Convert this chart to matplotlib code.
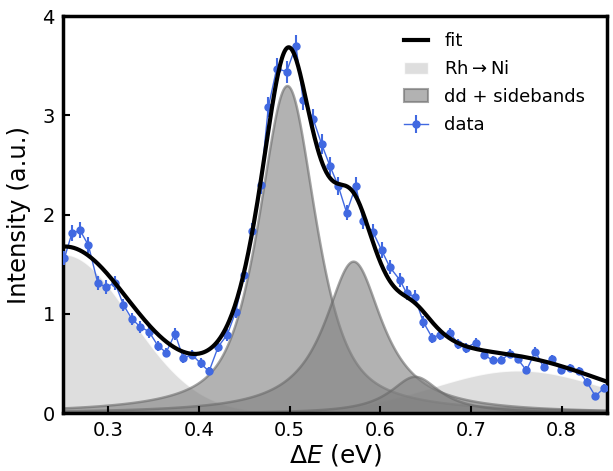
import numpy as np
import matplotlib
matplotlib.use("Agg")
from matplotlib import pyplot as plt
from matplotlib.patches import Patch

# measured spectrum
energy = [0.2514, 0.2596, 0.2687, 0.2779, 0.2882, 0.2970, 0.3073, 0.3165, 0.3257, 0.3349,
          0.3448, 0.3544, 0.3636, 0.3735, 0.3827, 0.3919, 0.4018, 0.4110, 0.4212, 0.4311,
          0.4404, 0.4496, 0.4580, 0.4680, 0.4764, 0.4856, 0.4966, 0.5069, 0.5149, 0.5260,
          0.5352, 0.5444, 0.5535, 0.5628, 0.5730, 0.5811, 0.5921, 0.6014, 0.6105, 0.6216,
          0.6289, 0.6380, 0.6473, 0.6572, 0.6664, 0.6767, 0.6858, 0.6951, 0.7053, 0.7145,
          0.7238, 0.7329, 0.7428, 0.7520, 0.7612, 0.7711, 0.7803, 0.7899, 0.7998, 0.8090,
          0.8189, 0.8281, 0.8373, 0.8465]
intensity = [1.56, 1.81, 1.84, 1.69, 1.31, 1.27, 1.31, 1.09, 0.95, 0.87,
             0.82, 0.68, 0.61, 0.80, 0.55, 0.59, 0.50, 0.42, 0.67, 0.79,
             1.02, 1.39, 1.83, 2.30, 3.08, 3.47, 3.44, 3.70, 3.15, 2.96,
             2.71, 2.49, 2.29, 2.02, 2.29, 1.93, 1.82, 1.64, 1.47, 1.34,
             1.21, 1.17, 0.92, 0.76, 0.79, 0.81, 0.70, 0.66, 0.71, 0.59,
             0.53, 0.53, 0.60, 0.54, 0.43, 0.62, 0.46, 0.54, 0.43, 0.45,
             0.42, 0.31, 0.17, 0.25]
errors = [0.07, 0.08, 0.08, 0.08, 0.07, 0.07, 0.07, 0.06, 0.06, 0.06,
          0.06, 0.05, 0.05, 0.06, 0.05, 0.05, 0.05, 0.04, 0.05, 0.06,
          0.06, 0.07, 0.08, 0.09, 0.10, 0.11, 0.11, 0.11, 0.10, 0.10,
          0.10, 0.09, 0.09, 0.08, 0.09, 0.08, 0.08, 0.08, 0.07, 0.07,
          0.07, 0.07, 0.06, 0.05, 0.05, 0.05, 0.05, 0.05, 0.05, 0.05,
          0.04, 0.04, 0.05, 0.04, 0.04, 0.05, 0.04, 0.04, 0.04, 0.04,
          0.04, 0.04, 0.03, 0.04]

# fit components
rh_center = [0.250, 0.752]
rh_height = [1.60, 0.43]
rh_sigma = [0.074, 0.095]

dd_center = [0.497, 0.570, 0.638]
dd_height = [3.30, 1.53, 0.37]
dd_fwhm = [0.075, 0.078, 0.068]
dd_eta = [0.7, 1.0, 1.0]


def gauss(x, c, a, s):
    return a * np.exp(-0.5 * ((x - c) / s) ** 2)


def pvoigt(x, c, a, w, eta):
    g = np.exp(-4 * np.log(2) * ((x - c) / w) ** 2)
    l = 1 / (1 + 4 * ((x - c) / w) ** 2)
    return a * (eta * l + (1 - eta) * g)


x = np.linspace(0.25, 0.85, 600)
rh = [gauss(x, c, a, s) for c, a, s in zip(rh_center, rh_height, rh_sigma)]
dd = [pvoigt(x, c, a, w, e) for c, a, w, e in zip(dd_center, dd_height, dd_fwhm, dd_eta)]
fit = sum(rh) + sum(dd)

fig = plt.figure(figsize=(6.13, 4.71), dpi=100)
ax = fig.add_axes([0.103, 0.123, 0.887, 0.843])

for y in rh:
    ax.fill_between(x, 0, y, facecolor="lightgray", edgecolor="white", lw=1, alpha=0.75)
for y in dd:
    ax.fill_between(x, 0, y, facecolor="gray", edgecolor="dimgray", lw=1.8, alpha=0.6)

ax.plot(x, fit, color="k", lw=3, zorder=4)
ax.errorbar(energy, intensity, yerr=errors, fmt="-o", color="royalblue", ms=5,
            lw=1, elinewidth=1.5, capsize=0, zorder=3)

ax.set_xlim(0.25, 0.85)
ax.set_ylim(0, 4)
ax.set_xticks([0.3, 0.4, 0.5, 0.6, 0.7, 0.8])
ax.set_yticks([0, 1, 2, 3, 4])
ax.tick_params(direction="in", length=5, width=1.5, labelsize=14, pad=6)
for sp in ax.spines.values():
    sp.set_linewidth(2.5)
ax.set_xlabel(r"$\Delta E$ (eV)", fontsize=18, labelpad=1)
ax.set_ylabel("Intensity (a.u.)", fontsize=17.5, labelpad=8)

handles = [
    plt.Line2D([], [], color="k", lw=3),
    Patch(facecolor="lightgray", edgecolor="white", alpha=0.75),
    Patch(facecolor="gray", edgecolor="dimgray", lw=1.5, alpha=0.6),
    ax.errorbar([], [], yerr=[], fmt="-o", color="royalblue", ms=5, lw=1, elinewidth=1.5),
]
labels = ["fit", r"Rh$\rightarrow$Ni", "dd + sidebands", "data"]
ax.legend(handles, labels, loc="upper right", frameon=False, fontsize=13,
          bbox_to_anchor=(0.99, 1.0), handlelength=1.3, handletextpad=0.9,
          labelspacing=0.55)

fig.savefig("out.png", dpi=100)
